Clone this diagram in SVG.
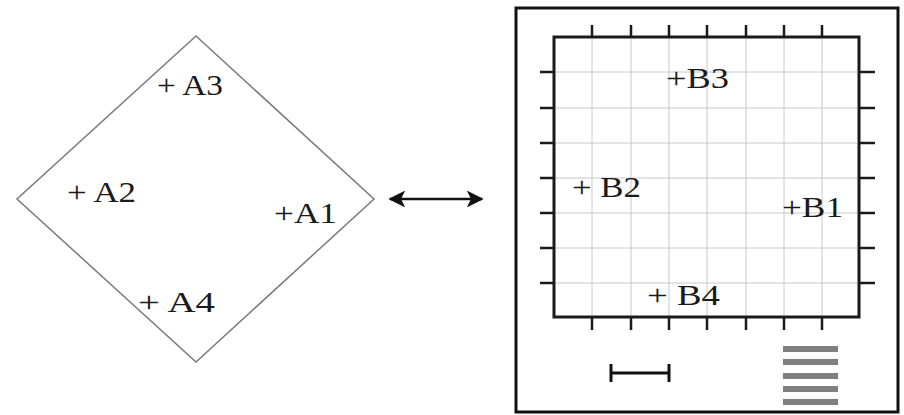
<svg xmlns="http://www.w3.org/2000/svg" width="904" height="415" viewBox="0 0 904 415">
<style>
.lbl{font-family:"Liberation Serif","DejaVu Serif",serif;font-size:29px;fill:#1a1a1a}
.grid line{stroke:#c8c8c8;stroke-width:1}
.tick line{stroke:#1a1a1a;stroke-width:2.5}
.bar{fill:#7f7f7f}
</style>
<defs>
<marker id="ah" viewBox="0 0 10 10" refX="9" refY="5" markerWidth="7.5" markerHeight="6.5" orient="auto-start-reverse" markerUnits="strokeWidth">
<path d="M0,0 L10,5 L0,10 L2.5,5 Z" fill="#111"/>
</marker>
</defs>
<rect width="904" height="415" fill="#fff"/>

<g id="regionA">
<polygon points="196,36 374,199 196,362 17,199" fill="none" stroke="#7a7a7a" stroke-width="1.5"/>
<text class="lbl" x="157" y="95" textLength="66" lengthAdjust="spacingAndGlyphs">+ A3</text>
<text class="lbl" x="67" y="202" textLength="69" lengthAdjust="spacingAndGlyphs">+ A2</text>
<text class="lbl" x="274" y="223" textLength="63" lengthAdjust="spacingAndGlyphs">+A1</text>
<text class="lbl" x="138" y="312" textLength="77" lengthAdjust="spacingAndGlyphs">+ A4</text>
</g>

<g id="connectors">
<line x1="390" y1="199" x2="482" y2="199" stroke="#111" stroke-width="2.6" marker-start="url(#ah)" marker-end="url(#ah)"/>
</g>

<g id="regionB">
<rect x="516" y="8" width="382" height="404" fill="none" stroke="#111" stroke-width="3"/>
<g class="grid">
<line x1="592" y1="36" x2="592" y2="318"/>
<line x1="631" y1="36" x2="631" y2="318"/>
<line x1="669" y1="36" x2="669" y2="318"/>
<line x1="707" y1="36" x2="707" y2="318"/>
<line x1="746" y1="36" x2="746" y2="318"/>
<line x1="784" y1="36" x2="784" y2="318"/>
<line x1="822" y1="36" x2="822" y2="318"/>
<line x1="553" y1="72" x2="860" y2="72"/>
<line x1="553" y1="108" x2="860" y2="108"/>
<line x1="553" y1="143" x2="860" y2="143"/>
<line x1="553" y1="178" x2="860" y2="178"/>
<line x1="553" y1="213" x2="860" y2="213"/>
<line x1="553" y1="248" x2="860" y2="248"/>
<line x1="553" y1="283" x2="860" y2="283"/>
</g>
<g class="tick">
<line x1="592" y1="25" x2="592" y2="36"/><line x1="631" y1="25" x2="631" y2="36"/><line x1="669" y1="25" x2="669" y2="36"/><line x1="707" y1="25" x2="707" y2="36"/><line x1="746" y1="25" x2="746" y2="36"/><line x1="784" y1="25" x2="784" y2="36"/><line x1="822" y1="25" x2="822" y2="36"/>
<line x1="592" y1="318" x2="592" y2="330"/><line x1="631" y1="318" x2="631" y2="330"/><line x1="669" y1="318" x2="669" y2="330"/><line x1="707" y1="318" x2="707" y2="330"/><line x1="746" y1="318" x2="746" y2="330"/><line x1="784" y1="318" x2="784" y2="330"/><line x1="822" y1="318" x2="822" y2="330"/>
<line x1="540" y1="72" x2="553" y2="72"/><line x1="540" y1="108" x2="553" y2="108"/><line x1="540" y1="143" x2="553" y2="143"/><line x1="540" y1="178" x2="553" y2="178"/><line x1="540" y1="213" x2="553" y2="213"/><line x1="540" y1="248" x2="553" y2="248"/><line x1="540" y1="283" x2="553" y2="283"/>
<line x1="860" y1="72" x2="875" y2="72"/><line x1="860" y1="108" x2="875" y2="108"/><line x1="860" y1="143" x2="875" y2="143"/><line x1="860" y1="178" x2="875" y2="178"/><line x1="860" y1="213" x2="875" y2="213"/><line x1="860" y1="248" x2="875" y2="248"/><line x1="860" y1="283" x2="875" y2="283"/>
</g>
<rect x="554" y="37" width="305" height="280" fill="none" stroke="#1a1a1a" stroke-width="3"/>
<text class="lbl" x="666" y="88" textLength="63" lengthAdjust="spacingAndGlyphs">+B3</text>
<text class="lbl" x="572" y="197" textLength="69" lengthAdjust="spacingAndGlyphs">+ B2</text>
<text class="lbl" x="782" y="217" textLength="61" lengthAdjust="spacingAndGlyphs">+B1</text>
<text class="lbl" x="647" y="305" textLength="73" lengthAdjust="spacingAndGlyphs">+ B4</text>
<g id="scalebar" stroke="#111" stroke-width="3">
<line x1="611" y1="373" x2="669" y2="373"/>
<line x1="611" y1="364" x2="611" y2="382"/>
<line x1="669" y1="364" x2="669" y2="382"/>
</g>
<g id="bars">
<rect class="bar" x="783" y="346" width="55" height="6"/>
<rect class="bar" x="783" y="359" width="55" height="6"/>
<rect class="bar" x="783" y="373" width="55" height="6"/>
<rect class="bar" x="783" y="386" width="55" height="6"/>
<rect class="bar" x="783" y="399" width="55" height="6"/>
</g>
</g>
</svg>
